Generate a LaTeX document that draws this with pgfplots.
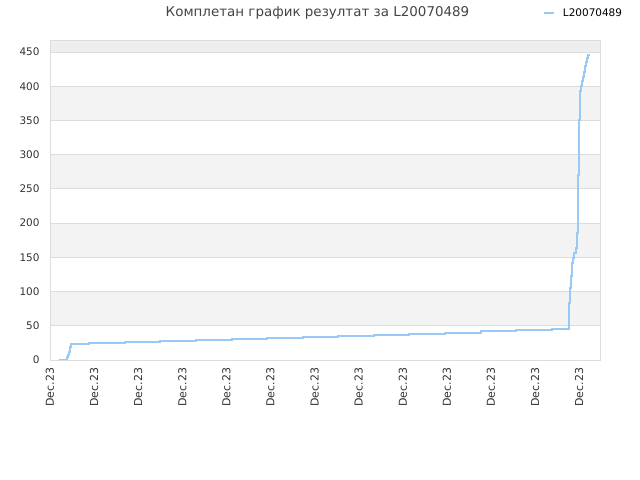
\documentclass[border=0pt]{standalone}
\usepackage{fontspec}
\setmainfont{DejaVu Sans}
\usepackage{pgfplots}
\pgfplotsset{compat=1.18}
\definecolor{linecol}{HTML}{99C9F4}
\definecolor{band}{HTML}{F3F3F3}
\definecolor{topband}{HTML}{EEEEEE}
\definecolor{gridc}{HTML}{DDDDDD}
\definecolor{titlec}{HTML}{444444}
\definecolor{tickc}{HTML}{333333}

\begin{document}
\begin{tikzpicture}
\begin{axis}[
    set layers,
    at={(0bp,0bp)}, anchor=south west,
    scale only axis, width=550bp, height=320bp,
    xmin=50, xmax=600, ymin=0, ymax=467.5,
    xtick={50,94.1,138.2,182.3,226.4,270.5,314.6,358.7,402.8,446.9,491,535.1,579.2},
    xticklabels={Dec.23,Dec.23,Dec.23,Dec.23,Dec.23,Dec.23,Dec.23,Dec.23,Dec.23,Dec.23,Dec.23,Dec.23,Dec.23},
    ytick={0,50,...,450},
    major tick length=0pt,
    axis line style={gridc},
    ymajorgrids, grid style={gridc, line width=0.8pt},
    tick label style={font=\fontsize{10.5}{12}\selectfont, text=tickc},
    /pgf/number format/assume math mode=true,
    yticklabel style={xshift=-7bp},
    xticklabel style={rotate=90, anchor=east, xshift=-4.5bp, font=\fontsize{11}{12}\selectfont},
    legend style={draw=none, fill=none, at={(rel axis cs:0.896,1.084)}, anchor=west,
        inner sep=0pt, font=\fontsize{10.5}{12}\selectfont, text=black},
    legend image code/.code={\draw[#1] (0bp,0bp) -- (10bp,0bp); \path (16bp,0bp);},
]
\addplot[on layer=axis background, draw=none, fill=band, forget plot] coordinates {(50,50) (600,50) (600,100) (50,100)} -- cycle;
\addplot[on layer=axis background, draw=none, fill=band, forget plot] coordinates {(50,150) (600,150) (600,200) (50,200)} -- cycle;
\addplot[on layer=axis background, draw=none, fill=band, forget plot] coordinates {(50,250) (600,250) (600,300) (50,300)} -- cycle;
\addplot[on layer=axis background, draw=none, fill=band, forget plot] coordinates {(50,350) (600,350) (600,400) (50,400)} -- cycle;
\addplot[on layer=axis background, draw=none, fill=topband, forget plot] coordinates {(50,450) (600,450) (600,467.5) (50,467.5)} -- cycle;
\addplot[const plot, color=linecol, line width=2pt] coordinates {
(59,0) (66.7,4) (67.7,7) (69,12) (70,19) (71,24)
(89,25.3) (125,26.8) (160,28.2) (196,29.7) (232,31.2) (267.3,32.6)
(303.3,34.2) (338,35.5) (374,37) (409.3,38.5) (445,40) (481,41.8)
(516,43.3) (552,44.8) (568.7,83) (570,105) (570.7,123) (571.7,141)
(572.7,149) (573.7,156) (575.7,164) (576.7,186) (577.7,270) (578.7,317)
(579.3,351) (580,393) (581,400) (582,407) (583,414) (584,421)
(585,429) (586,435) (587,441) (588.3,445) (589,447)
};
\addlegendentry{L20070489}
\end{axis}
\node[text=titlec, font=\fontsize{13.5}{15}\selectfont] at (267.5bp,347.5bp) {Комплетан график резултат за L20070489};
\pgfresetboundingbox
\path[use as bounding box] (-50bp,-120bp) rectangle (590bp,360bp);
\end{tikzpicture}
\end{document}
